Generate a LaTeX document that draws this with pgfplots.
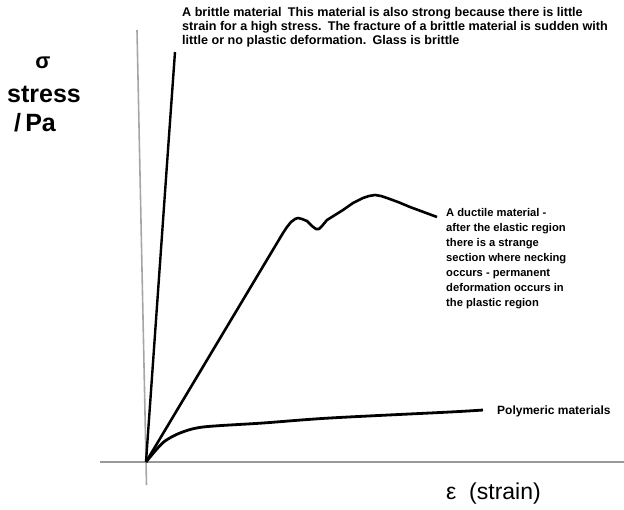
\documentclass[border=0pt]{standalone}
\usepackage{pgfplots}
\pgfplotsset{compat=1.18}
\usepackage{fontspec}
\setmainfont{Liberation Sans}
\begin{document}
\begin{tikzpicture}
\begin{axis}[name=ax, scale only axis, width=624pt, height=509pt,
  xmin=0, xmax=624, ymin=0, ymax=509, y dir=reverse,
  axis lines=none, clip=false]
% axes
\addplot[draw=gray!80, line width=1.8pt] coordinates {(100,462) (624,462)};
\addplot[draw=gray!70, line width=1.6pt] coordinates {(146.5,485) (137,30)};
% brittle
\addplot[black, line width=2.4pt] coordinates {(146,462) (168,150) (175,52)};
% ductile
\addplot[black, line width=2.6pt, line join=round] coordinates {
 (146,462) (283,233) (287,227) (291,222) (295,219) (298,218) (302,219) (307,221)
 (312,226) (316,229) (319,229) (322,226) (327,220)
 (335,215) (343,210) (353,203) (363,198) (369,196) (375,195) (381,196) (387,198)
 (398,202) (410,207) (437,217)};
% polymeric
\addplot[black, line width=2.8pt, smooth, tension=0.5] coordinates {
 (146,462) (156,450) (165,441) (180,433) (203,427) (263,423) (330,418) (450,412) (483,410)};
% labels
\node[anchor=center, font=\bfseries\fontsize{22}{22}\selectfont] at (axis cs:43,63) {σ};
\node[anchor=north west, inner sep=0pt, font=\bfseries\fontsize{25}{25}\selectfont] at (axis cs:7,86) {stress};
\node[anchor=north west, inner sep=0pt, font=\bfseries\fontsize{25}{25}\selectfont] at (axis cs:14,113) {/\,Pa};
\node[anchor=west, inner sep=0pt, font=\fontsize{23}{23}\selectfont] at (axis cs:446,494) {ε\; (strain)};
\node[anchor=north west, inner sep=0pt, align=left, font=\bfseries\fontsize{12.6}{14}\selectfont] at (axis cs:182,7)
 {A brittle material\enspace This material is also strong because there is little\\
  strain for a high stress.\enspace The fracture of a brittle material is sudden with\\
  little or no plastic deformation.\enspace Glass is brittle};
\node[anchor=north west, inner sep=0pt, align=left, font=\bfseries\fontsize{11.2}{15}\selectfont] at (axis cs:446,208)
 {A ductile material -\\
  after the elastic region\\
  there is a strange\\
  section where necking\\
  occurs - permanent\\
  deformation occurs in\\
  the plastic region};
\node[anchor=west, inner sep=0pt, font=\bfseries\fontsize{12}{12}\selectfont] at (axis cs:497,411) {Polymeric materials};
\end{axis}
\pgfresetboundingbox
\path (ax.south west) rectangle (ax.north east);
\end{tikzpicture}
\end{document}
